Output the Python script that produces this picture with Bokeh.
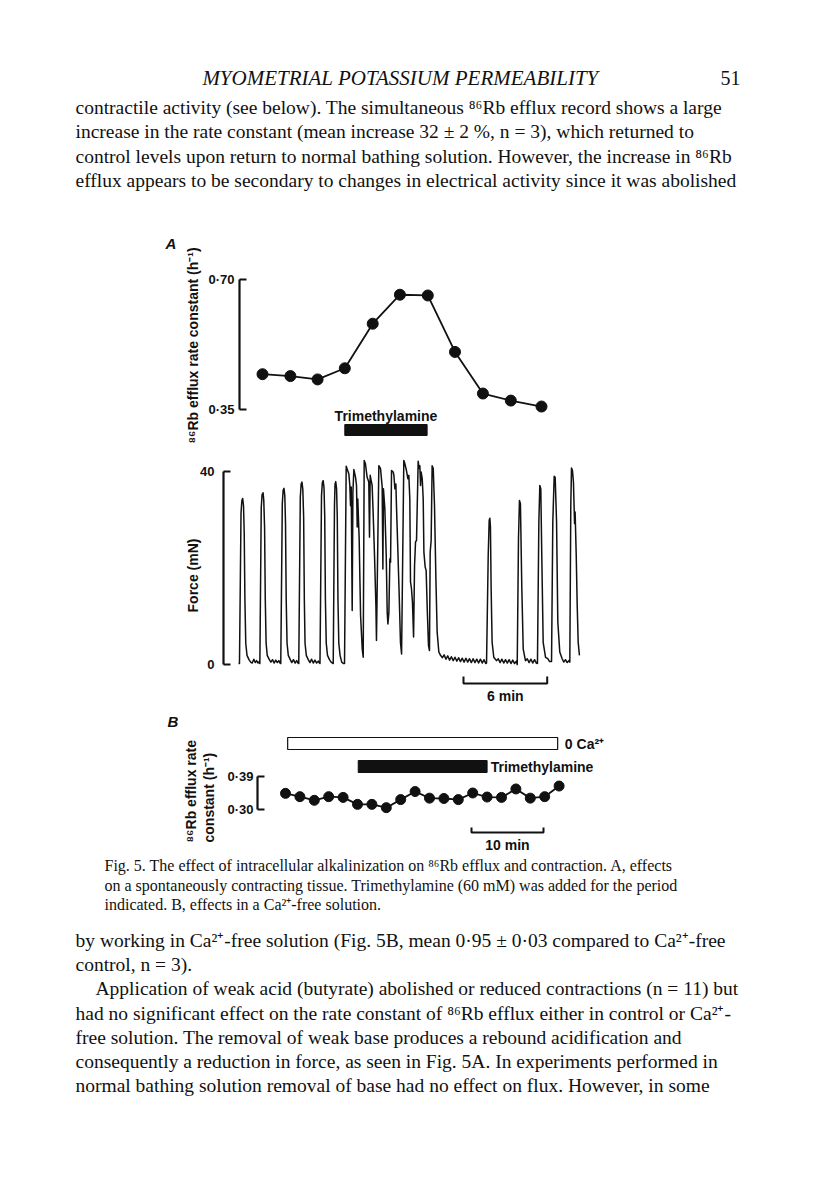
from bokeh.plotting import figure
from bokeh.models import Range1d, FixedTicker, CustomJSTickFormatter, LinearAxis
from bokeh.embed import file_html
from bokeh.resources import INLINE
from bokeh.core.properties import value
import math

# ------------------------------------------------------------------ data
header_title = "MYOMETRIAL POTASSIUM PERMEABILITY"
page_number = "51"
para_top = [
    "contractile activity (see below). The simultaneous \u2078\u2076Rb efflux record shows a large",
    "increase in the rate constant (mean increase 32 \u00b1 2 %, n = 3), which returned to",
    "control levels upon return to normal bathing solution. However, the increase in \u2078\u2076Rb",
    "efflux appears to be secondary to changes in electrical activity since it was abolished",
]
caption = [
    "Fig. 5. The effect of intracellular alkalinization on \u2078\u2076Rb efflux and contraction. A, effects",
    "on a spontaneously contracting tissue. Trimethylamine (60 mM) was added for the period",
    "indicated. B, effects in a Ca\u00b2\u207a-free solution.",
]
para_bottom = [
    "by working in Ca\u00b2\u207a-free solution (Fig. 5B, mean 0\u00b795 \u00b1 0\u00b703 compared to Ca\u00b2\u207a-free",
    "control, n = 3).",
    "Application of weak acid (butyrate) abolished or reduced contractions (n = 11) but",
    "had no significant effect on the rate constant of \u2078\u2076Rb efflux either in control or Ca\u00b2\u207a-",
    "free solution. The removal of weak base produces a rebound acidification and",
    "consequently a reduction in force, as seen in Fig. 5A. In experiments performed in",
    "normal bathing solution removal of base had no effect on flux. However, in some",
]
rateA_label = "\u2078\u2076Rb efflux rate constant (h\u207b\u00b9)"
force_label = "Force (mN)"
rateB_label = ["\u2078\u2076Rb efflux rate", "constant (h\u207b\u00b9)"]

# Panel A: 86Rb efflux rate constant (h^-1) vs time (min)
effA_time = [0, 2.0, 3.95, 5.9, 7.9, 9.85, 11.85, 13.8, 15.8, 17.8, 20.0]
effA_rate = [0.445, 0.440, 0.431, 0.461, 0.581, 0.659, 0.657, 0.505, 0.393, 0.374, 0.358]
tmaA_period = [5.9, 11.8]          # min, trimethylamine

# Panel A: force trace (mN) vs time (min)
force_time = [
    -1.72, -1.65, -1.54, -1.48, -1.42, -1.36, -1.31, -1.26, -1.20, -1.11, -0.97,
    -0.85, -0.74, -0.62, -0.52, -0.42, -0.32, -0.24,
    -0.19, -0.09, -0.03, 0.04, 0.09, 0.15, 0.20, 0.26, 0.34, 0.49,
    0.60, 0.72, 0.83, 0.95, 1.06, 1.17, 1.26,
    1.31, 1.42, 1.48, 1.54, 1.60, 1.65, 1.70, 1.76, 1.85, 1.99,
    2.10, 2.22, 2.34, 2.45, 2.55,
    2.60, 2.71, 2.77, 2.83, 2.89, 2.95, 3.00, 3.05, 3.14, 3.28,
    3.40, 3.52, 3.64, 3.76, 3.88, 4.00, 4.08,
    4.12, 4.23, 4.29, 4.35, 4.41, 4.46, 4.51, 4.57, 4.66, 4.80,
    4.92, 5.02,
    5.07, 5.16, 5.20, 5.25, 5.31, 5.36, 5.41, 5.47, 5.56, 5.68, 5.80,
    5.88, 6.00, 6.19, 6.26, 6.31, 6.36, 6.43, 6.48, 6.55, 6.67, 6.74, 6.79, 6.83, 6.93, 7.03, 7.15, 7.22,
    7.29, 7.38, 7.50, 7.62, 7.67, 7.72, 7.79, 7.86, 7.93, 8.03, 8.13, 8.17,
    8.34, 8.46, 8.58, 8.63, 8.67, 8.77, 8.87, 8.94, 8.99, 9.06, 9.13, 9.18,
    9.25, 9.37, 9.42, 9.49, 9.56, 9.61, 9.70, 9.80, 9.89, 9.97,
    10.13, 10.18, 10.32, 10.42, 10.49, 10.56, 10.61, 10.68, 10.75, 10.83, 10.90, 10.97, 11.04,
    11.16, 11.23, 11.28, 11.33, 11.37, 11.45, 11.52, 11.57, 11.66, 11.73, 11.81, 11.90, 11.97, 12.02, 12.09,
    12.16, 12.24, 12.33, 12.43, 12.52, 12.64, 12.76,
    12.90, 13.02, 13.15, 13.28, 13.41, 13.54, 13.67, 13.80, 13.93, 14.06, 14.19, 14.32, 14.45,
    14.58, 14.71, 14.84, 14.97, 15.10, 15.23, 15.36, 15.49, 15.62, 15.75, 15.88, 16.00,
    16.06, 16.18, 16.25, 16.30, 16.34, 16.39, 16.46, 16.58, 16.77,
    16.90, 17.03, 17.16, 17.29, 17.42, 17.55, 17.68, 17.81, 17.94, 18.07, 18.20,
    18.26, 18.35, 18.42, 18.49, 18.59, 18.69, 18.85,
    18.98, 19.11, 19.24, 19.37, 19.50, 19.63,
    19.71, 19.81, 19.88, 19.95, 20.02, 20.12, 20.29, 20.45, 20.58,
    20.72, 20.81, 20.91, 20.98, 21.08, 21.17, 21.31, 21.48, 21.60, 21.72, 21.84, 21.96,
    22.03, 22.10, 22.15, 22.22, 22.29, 22.37, 22.41, 22.49, 22.56, 22.63, 22.72,
]
force_mN = [
    0.2, 0.2, 31.3, 34.0, 34.4, 32.9, 27.1, 13.3, 4.4, 1.9, 1.0,
    0.5, 0.3, 1.1, 0.4, 0.8, 0.3, 0.6,
    0.2, 32.5, 35.2, 35.6, 34.1, 28.3, 13.3, 4.4, 1.9, 1.0,
    0.5, 1.0, 0.3, 0.9, 0.4, 0.8, 0.3,
    0.2, 33.4, 36.1, 36.5, 35.0, 29.2, 13.3, 4.4, 1.9, 1.0,
    0.4, 1.0, 0.3, 0.8, 0.3,
    0.2, 34.7, 37.4, 37.8, 36.3, 30.5, 13.3, 4.4, 1.9, 1.0,
    0.4, 1.1, 0.3, 0.9, 0.3, 0.7, 0.3,
    0.2, 35.0, 37.7, 38.1, 36.6, 30.8, 13.3, 4.4, 1.9, 1.0,
    0.5, 0.3,
    0.2, 33.0, 37.4, 37.9, 36.4, 30.6, 13.3, 4.4, 1.9, 0.5, 0.2,
    0.2, 41.1, 39.5, 37.1, 32.9, 36.8, 11.2, 35.7, 40.4, 38.8, 37.1, 28.5, 34.3, 26.0, 10.2, 3.2, 1.5,
    42.3, 41.6, 38.8, 37.8, 26.4, 39.2, 38.1, 37.1, 31.6, 22.6, 12.2, 5.0,
    41.2, 40.6, 36.8, 19.8, 36.4, 32.3, 22.6, 10.8, 8.4, 10.8, 21.9, 21.2,
    40.2, 39.9, 39.2, 36.4, 37.4, 32.3, 24.0, 14.3, 4.6, 2.2,
    42.3, 41.9, 40.2, 38.5, 39.2, 34.3, 17.1, 15.7, 12.9, 5.7, 20.5, 25.4, 25.7,
    42.1, 40.6, 41.2, 37.1, 39.9, 38.5, 34.3, 23.3, 20.2, 19.5, 11.5, 3.9, 2.9, 23.3, 25.7,
    41.2, 40.6, 32.9, 17.8, 6.7, 2.6, 1.9,
    1.4, 2.0, 1.1, 1.8, 0.9, 1.6, 0.8, 1.5, 0.7, 1.4, 0.6, 1.3, 0.5,
    1.3, 0.5, 1.2, 0.4, 1.2, 0.4, 1.1, 0.3, 1.1, 0.3, 1.0, 0.2,
    0.3, 22.6, 29.9, 30.3, 28.5, 15.7, 4.6, 1.5, 0.8,
    1.2, 0.4, 1.1, 0.3, 1.0, 0.3, 1.0, 0.2, 0.9, 0.2, 0.7,
    0.0, 26.0, 34.0, 33.3, 15.7, 3.2, 0.8,
    1.2, 0.4, 1.1, 0.3, 1.0, 0.3,
    0.2, 29.5, 37.1, 36.4, 22.6, 4.6, 1.5, 1.2, 0.6,
    0.6, 29.5, 39.0, 38.8, 29.5, 8.8, 2.6, 1.2, 0.5, 1.0, 0.4, 0.8,
    0.5, 32.9, 40.7, 40.2, 37.8, 29.2, 31.6, 22.6, 12.2, 4.6, 1.9,
]

# Panel B: Ca2+-free solution
effB_time = [0, 2, 4, 6, 8, 10, 12, 14, 16, 18, 20, 22, 24, 26, 28, 30, 32, 34, 36, 38]
effB_rate = [0.344, 0.335, 0.325, 0.335, 0.333, 0.314, 0.314, 0.305, 0.327, 0.349,
             0.331, 0.330, 0.327, 0.345, 0.334, 0.333, 0.356, 0.331, 0.335, 0.364]
caB_period = [0.3, 37.8]           # min, 0 Ca2+
tmaB_period = [10.1, 28.0]         # min, trimethylamine

rateA_ticks = [0.35, 0.70]
force_ticks = [0, 40]
rateB_ticks = [0.30, 0.39]
scaleA_len = 6    # min
scaleB_len = 10   # min

# ------------------------------------------------------------------ page / scales
W, H = 816, 1204
SERIF = "Liberation Serif"
SANS = "Liberation Sans"
INK = "#111111"
BODY = "19.5px"

p = figure(frame_width=W, frame_height=H, x_range=Range1d(0, W), y_range=Range1d(H, 0),
           x_axis_type=None, y_axis_type=None, min_border=0, outline_line_color=None,
           background_fill_color="white", border_fill_color="white",
           output_backend="svg", toolbar_location=None)
p.grid.visible = False


def x_scale(ref_px, ref_val, ppu):
    rng = Range1d(ref_val - ref_px / ppu, ref_val + (W - ref_px) / ppu)
    return rng, (lambda px: ref_val + (px - ref_px) / ppu)


def y_scale(ref_px, ref_val, ppu):
    rng = Range1d(ref_val - (H - ref_px) / ppu, ref_val + ref_px / ppu)
    return rng, (lambda px: ref_val - (px - ref_px) / ppu)


tA_rng, xA = x_scale(262, 0.0, 13.95)        # shared time axis of panel A (min)
tB_rng, xB = x_scale(285, 0.0, 7.2)          # time axis of panel B (min)
rA_rng, yA = y_scale(279, 0.70, 130 / 0.35)  # efflux rate, panel A
fA_rng, yF = y_scale(664, 0.0, 4.825)        # force, panel A
rB_rng, yB = y_scale(776, 0.39, 33 / 0.09)   # efflux rate, panel B
p.extra_x_ranges = {"tA": tA_rng, "tB": tB_rng}
p.extra_y_ranges = {"rA": rA_rng, "fA": fA_rng, "rB": rB_rng}


def add_axis(yname, loc, ticks, decimals, standoff):
    ax = LinearAxis(y_range_name=yname, fixed_location=loc)
    ax.ticker = FixedTicker(ticks=ticks)
    ax.formatter = CustomJSTickFormatter(
        code="return tick.toFixed(%d).replace('.', '\u00b7');" % decimals)
    ax.bounds = (min(ticks), max(ticks))
    ax.axis_line_width = 2.2
    ax.axis_line_color = INK
    ax.major_tick_line_width = 2.2
    ax.major_tick_line_color = INK
    ax.major_tick_in = 7
    ax.major_tick_out = 0
    ax.minor_tick_line_color = None
    ax.major_label_text_font = SANS
    ax.major_label_text_font_size = "13px"
    ax.major_label_text_font_style = "bold"
    ax.major_label_text_color = INK
    ax.major_label_standoff = standoff
    p.add_layout(ax, "left")


def stext(x, y, t, size="14px", align="center", style="bold", angle=0.0, xr="default"):
    p.text(x=[x], y=[y], text=[t], x_range_name=xr, text_font=value(SANS),
           text_font_size=value(size), text_align=align, text_baseline="middle",
           text_color=INK, text_font_style=style, angle=angle)


# ------------------------------------------------------------------ page text
p.text(x=[400], y=[77], text=[header_title], text_font=value(SERIF),
       text_font_size=value("21px"), text_font_style="italic",
       text_align="center", text_baseline="middle", text_color=INK)
p.text(x=[740], y=[77], text=[page_number], text_font=value(SERIF),
       text_font_size=value("20px"), text_align="right", text_baseline="middle", text_color=INK)
p.text(x=[75] * len(para_top), y=[107 + 24.4 * i for i in range(len(para_top))], text=para_top,
       text_font=value(SERIF), text_font_size=value(BODY),
       text_align="left", text_baseline="middle", text_color=INK)
p.text(x=[104] * len(caption), y=[865 + 19.5 * i for i in range(len(caption))], text=caption,
       text_font=value(SERIF), text_font_size=value("16px"),
       text_align="left", text_baseline="middle", text_color=INK)
p.text(x=[75, 75, 95, 75, 75, 75, 75], y=[940 + 24.2 * i for i in range(len(para_bottom))],
       text=para_bottom, text_font=value(SERIF), text_font_size=value(BODY),
       text_align="left", text_baseline="middle", text_color=INK)

# ------------------------------------------------------------------ panel A: efflux
add_axis("rA", 239, rateA_ticks, 2, 5)
p.line(effA_time, effA_rate, x_range_name="tA", y_range_name="rA", line_width=1.8, line_color=INK)
p.scatter(effA_time, effA_rate, x_range_name="tA", y_range_name="rA", size=11,
          fill_color=INK, line_color=INK)
p.quad(left=[tmaA_period[0]], right=[tmaA_period[1]], bottom=[435], top=[424],
       x_range_name="tA", fill_color=INK, line_color=INK)
stext(sum(tmaA_period) / 2, 415, "Trimethylamine", xr="tA")
stext(192, 345, rateA_label, angle=math.pi / 2)
stext(165, 243, "A", size="15px", align="left", style="bold italic")

# ------------------------------------------------------------------ panel A: force
add_axis("fA", 223, force_ticks, 0, 9)
p.line(force_time, force_mN, x_range_name="tA", y_range_name="fA", line_width=1.5,
       line_color=INK, line_join="round")
sa0 = xA(463)
p.line([sa0, sa0, sa0 + scaleA_len, sa0 + scaleA_len], [676, 683, 683, 676], x_range_name="tA",
       line_width=2, line_color=INK)
stext(sa0 + scaleA_len / 2, 695, "6 min", xr="tA")
stext(192, 575, force_label, angle=math.pi / 2)

# ------------------------------------------------------------------ panel B
add_axis("rB", 257, rateB_ticks, 2, 4)
p.quad(left=[caB_period[0]], right=[caB_period[1]], bottom=[749], top=[737], x_range_name="tB",
       fill_color="white", line_color=INK, line_width=1.2)
p.quad(left=[tmaB_period[0]], right=[tmaB_period[1]], bottom=[772], top=[760], x_range_name="tB",
       fill_color=INK, line_color=INK)
stext(caB_period[1] + 1.0, 743, "0 Ca\u00b2\u207a", align="left", xr="tB")
stext(tmaB_period[1] + 0.5, 766, "Trimethylamine", align="left", xr="tB")
p.line(effB_time, effB_rate, x_range_name="tB", y_range_name="rB", line_width=1.8, line_color=INK)
p.scatter(effB_time, effB_rate, x_range_name="tB", y_range_name="rB", size=10,
          fill_color=INK, line_color=INK)
sb0 = xB(471)
p.line([sb0, sb0, sb0 + scaleB_len, sb0 + scaleB_len], [827, 832, 832, 827], x_range_name="tB",
       line_width=2, line_color=INK)
stext(sb0 + scaleB_len / 2, 844, "10 min", xr="tB")
stext(167, 721, "B", size="15px", align="left", style="bold italic")
stext(190, 842, rateB_label[0], align="left", angle=math.pi / 2)
stext(208, 842, rateB_label[1], align="left", angle=math.pi / 2)

open("out.html", "w").write(file_html(p, INLINE))
